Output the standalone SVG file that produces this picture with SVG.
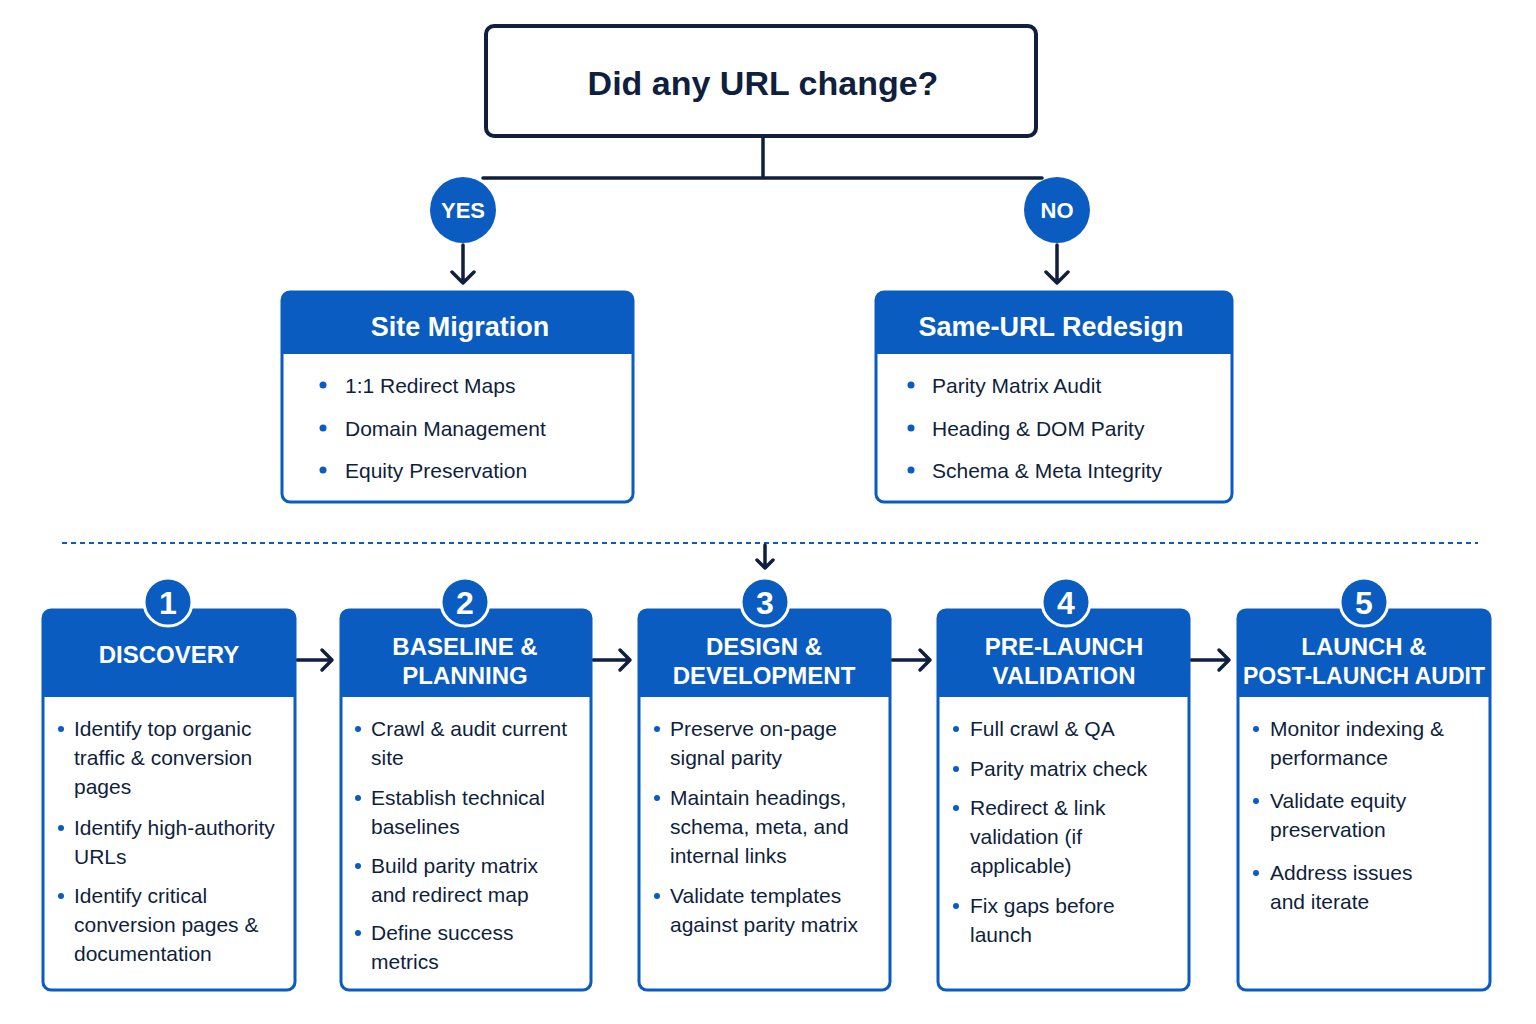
<svg xmlns="http://www.w3.org/2000/svg" width="1536" height="1024" viewBox="0 0 1536 1024">
<style>
text{font-family:"Liberation Sans",Arial,sans-serif}
.hd{fill:#0a5cc0}
.box{fill:#fff;stroke:#0a5cc0;stroke-width:3}
.ht{fill:#fff;font-weight:bold;text-anchor:middle}
.bt{fill:#0f1f3d;font-size:21px}
.bl{fill:#0a5cc0}
.ln{stroke:#0f1f3d;stroke-width:3.5;fill:none;stroke-linecap:round;stroke-linejoin:round}
</style>
<rect width="1536" height="1024" fill="#fff"/>
<g id="question">
<rect x="486" y="26" width="550" height="110" rx="8" fill="#fff" stroke="#0f1f3d" stroke-width="4"/>
<text x="763" y="95" text-anchor="middle" font-size="34" font-weight="bold" fill="#0f1f3d">Did any URL change?</text>
</g>
<g id="connectors">
<path class="ln" d="M763 136 V178 M483 178 H1042"/>
<path class="ln" d="M463 245 V283 M452 272 L463 283 L474 272"/>
<path class="ln" d="M1057 245 V283 M1046 272 L1057 283 L1068 272"/>
<line x1="62" y1="543" x2="1478" y2="543" stroke="#0a5cc0" stroke-width="2" stroke-dasharray="5 4"/>
<path class="ln" d="M765 545 V568 M757 560 L765 568 L773 560" stroke-width="2.5"/>
<path class="ln" d="M297 660 H331 M322 650 L332 660 L322 670"/>
<path class="ln" d="M593 660 H629 M620 650 L630 660 L620 670"/>
<path class="ln" d="M892 660 H929 M920 650 L930 660 L920 670"/>
<path class="ln" d="M1191 660 H1228 M1219 650 L1229 660 L1219 670"/>
</g>
<g id="yes"><circle cx="463" cy="210" r="33" fill="#0a5cc0"/><text x="463" y="218" class="ht" font-size="22">YES</text></g>
<g id="no"><circle cx="1057" cy="210" r="33" fill="#0a5cc0"/><text x="1057" y="218" class="ht" font-size="22">NO</text></g>
<g id="site-migration">
<rect class="box" x="282" y="292" width="351" height="210" rx="8"/>
<path class="hd" d="M282 300 a8 8 0 0 1 8 -8 H625 a8 8 0 0 1 8 8 V354 H282Z"/>
<text class="ht" x="460" y="336" font-size="27">Site Migration</text>
<g class="bt" font-size="23"><circle class="bl" cx="323" cy="385" r="3.5"/><text x="345" y="393">1:1 Redirect Maps</text>
<circle class="bl" cx="323" cy="428" r="3.5"/><text x="345" y="436">Domain Management</text>
<circle class="bl" cx="323" cy="470" r="3.5"/><text x="345" y="478">Equity Preservation</text></g>
</g>
<g id="same-url">
<rect class="box" x="876" y="292" width="356" height="210" rx="8"/>
<path class="hd" d="M876 300 a8 8 0 0 1 8 -8 H1224 a8 8 0 0 1 8 8 V354 H876Z"/>
<text class="ht" x="1051" y="336" font-size="27">Same-URL Redesign</text>
<g class="bt" font-size="23"><circle class="bl" cx="911" cy="385" r="3.5"/><text x="932" y="393">Parity Matrix Audit</text>
<circle class="bl" cx="911" cy="428" r="3.5"/><text x="932" y="436">Heading &amp; DOM Parity</text>
<circle class="bl" cx="911" cy="470" r="3.5"/><text x="932" y="478">Schema &amp; Meta Integrity</text></g>
</g>
<g id="phase1">
<rect class="box" x="43" y="610" width="252" height="380" rx="8"/>
<path class="hd" d="M43 618 a8 8 0 0 1 8 -8 H287 a8 8 0 0 1 8 8 V697 H43Z"/>
<circle cx="168" cy="602" r="24" fill="#0a5cc0" stroke="#fff" stroke-width="3"/>
<text class="ht" x="168" y="614" font-size="32">1</text>
<text class="ht" x="169" y="663" font-size="24">DISCOVERY</text>
<g class="bt"><circle class="bl" cx="61" cy="729" r="3"/><text x="74" y="736">Identify top organic</text><text x="74" y="765">traffic &amp; conversion</text><text x="74" y="794">pages</text>
<circle class="bl" cx="61" cy="828" r="3"/><text x="74" y="835">Identify high-authority</text><text x="74" y="864">URLs</text>
<circle class="bl" cx="61" cy="896" r="3"/><text x="74" y="903">Identify critical</text><text x="74" y="932">conversion pages &amp;</text><text x="74" y="961">documentation</text></g>
</g>
<g id="phase2">
<rect class="box" x="341" y="610" width="250" height="380" rx="8"/>
<path class="hd" d="M341 618 a8 8 0 0 1 8 -8 H583 a8 8 0 0 1 8 8 V697 H341Z"/>
<circle cx="465" cy="602" r="24" fill="#0a5cc0" stroke="#fff" stroke-width="3"/>
<text class="ht" x="465" y="614" font-size="32">2</text>
<text class="ht" x="465" y="655" font-size="24">BASELINE &amp;</text><text class="ht" x="465" y="684" font-size="24">PLANNING</text>
<g class="bt"><circle class="bl" cx="358" cy="729" r="3"/><text x="371" y="736">Crawl &amp; audit current</text><text x="371" y="765">site</text>
<circle class="bl" cx="358" cy="798" r="3"/><text x="371" y="805">Establish technical</text><text x="371" y="834">baselines</text>
<circle class="bl" cx="358" cy="866" r="3"/><text x="371" y="873">Build parity matrix</text><text x="371" y="902">and redirect map</text>
<circle class="bl" cx="358" cy="933" r="3"/><text x="371" y="940">Define success</text><text x="371" y="969">metrics</text></g>
</g>
<g id="phase3">
<rect class="box" x="639" y="610" width="251" height="380" rx="8"/>
<path class="hd" d="M639 618 a8 8 0 0 1 8 -8 H882 a8 8 0 0 1 8 8 V697 H639Z"/>
<circle cx="765" cy="602" r="24" fill="#0a5cc0" stroke="#fff" stroke-width="3"/>
<text class="ht" x="765" y="614" font-size="32">3</text>
<text class="ht" x="764" y="655" font-size="24">DESIGN &amp;</text><text class="ht" x="764" y="684" font-size="24">DEVELOPMENT</text>
<g class="bt"><circle class="bl" cx="657" cy="729" r="3"/><text x="670" y="736">Preserve on-page</text><text x="670" y="765">signal parity</text>
<circle class="bl" cx="657" cy="798" r="3"/><text x="670" y="805">Maintain headings,</text><text x="670" y="834">schema, meta, and</text><text x="670" y="863">internal links</text>
<circle class="bl" cx="657" cy="896" r="3"/><text x="670" y="903">Validate templates</text><text x="670" y="932">against parity matrix</text></g>
</g>
<g id="phase4">
<rect class="box" x="938" y="610" width="251" height="380" rx="8"/>
<path class="hd" d="M938 618 a8 8 0 0 1 8 -8 H1181 a8 8 0 0 1 8 8 V697 H938Z"/>
<circle cx="1066" cy="602" r="24" fill="#0a5cc0" stroke="#fff" stroke-width="3"/>
<text class="ht" x="1066" y="614" font-size="32">4</text>
<text class="ht" x="1064" y="655" font-size="24">PRE-LAUNCH</text><text class="ht" x="1064" y="684" font-size="24">VALIDATION</text>
<g class="bt"><circle class="bl" cx="956" cy="729" r="3"/><text x="970" y="736">Full crawl &amp; QA</text>
<circle class="bl" cx="956" cy="769" r="3"/><text x="970" y="776">Parity matrix check</text>
<circle class="bl" cx="956" cy="808" r="3"/><text x="970" y="815">Redirect &amp; link</text><text x="970" y="844">validation (if</text><text x="970" y="873">applicable)</text>
<circle class="bl" cx="956" cy="906" r="3"/><text x="970" y="913">Fix gaps before</text><text x="970" y="942">launch</text></g>
</g>
<g id="phase5">
<rect class="box" x="1238" y="610" width="252" height="380" rx="8"/>
<path class="hd" d="M1238 618 a8 8 0 0 1 8 -8 H1482 a8 8 0 0 1 8 8 V697 H1238Z"/>
<circle cx="1364" cy="602" r="24" fill="#0a5cc0" stroke="#fff" stroke-width="3"/>
<text class="ht" x="1364" y="614" font-size="32">5</text>
<text class="ht" x="1364" y="655" font-size="24">LAUNCH &amp;</text><text class="ht" x="1364" y="684" font-size="23">POST-LAUNCH AUDIT</text>
<g class="bt"><circle class="bl" cx="1256" cy="729" r="3"/><text x="1270" y="736">Monitor indexing &amp;</text><text x="1270" y="765">performance</text>
<circle class="bl" cx="1256" cy="801" r="3"/><text x="1270" y="808">Validate equity</text><text x="1270" y="837">preservation</text>
<circle class="bl" cx="1256" cy="873" r="3"/><text x="1270" y="880">Address issues</text><text x="1270" y="909">and iterate</text></g>
</g>
</svg>
